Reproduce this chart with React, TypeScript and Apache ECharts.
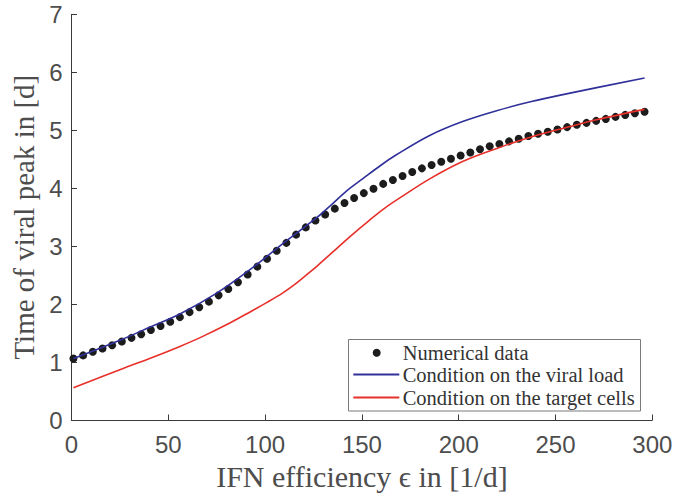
import React, { useEffect, useRef } from "react";
import * as echarts from "echarts";

const xTicks = [0, 50, 100, 150, 200, 250, 300];
const yTicks = [0, 1, 2, 3, 4, 5, 6, 7];

const dotX = [
  1, 6, 11, 16, 21, 26, 31, 36, 41, 46, 51, 56, 61, 66, 71, 76, 81, 86, 91, 96,
  101, 106, 111, 116, 121, 126, 131, 136, 141, 146, 151, 156, 161, 166, 171, 176, 181, 186, 191, 196,
  201, 206, 211, 216, 221, 226, 231, 236, 241, 246, 251, 256, 261, 266, 271, 276, 281, 286, 291, 296,
];
const dotY = [
  1.06, 1.115, 1.178, 1.234, 1.291, 1.354, 1.417, 1.479, 1.553, 1.622,
  1.695, 1.775, 1.861, 1.946, 2.042, 2.151, 2.259, 2.378, 2.51, 2.646,
  2.783, 2.92, 3.056, 3.198, 3.323, 3.442, 3.545, 3.647, 3.744, 3.83,
  3.915, 3.989, 4.074, 4.142, 4.211, 4.279, 4.342, 4.399, 4.456, 4.507,
  4.564, 4.615, 4.672, 4.723, 4.763, 4.808, 4.854, 4.9, 4.939, 4.974,
  5.013, 5.053, 5.093, 5.127, 5.161, 5.195, 5.23, 5.264, 5.292, 5.32,
];

const viralX = [1, 26, 41, 56, 75, 92, 109, 127, 133.5, 142, 150.7, 160, 168, 185, 202, 219.6, 237, 257.5, 296];
const viralY = [1.06, 1.39, 1.61, 1.83, 2.19, 2.59, 3.04, 3.5, 3.69, 3.95, 4.17, 4.4, 4.58, 4.91, 5.15, 5.337, 5.49, 5.64, 5.9];

const targetX = [1, 26, 41, 56, 67, 81, 92, 101, 109, 115, 122, 127, 135, 144, 154, 162, 170, 185, 202, 220, 237, 257, 271, 296];
const targetY = [0.557, 0.88, 1.07, 1.27, 1.43, 1.66, 1.86, 2.03, 2.19, 2.33, 2.52, 2.66, 2.9, 3.17, 3.45, 3.66, 3.84, 4.16, 4.46, 4.69, 4.88, 5.06, 5.18, 5.36];

const legendNames = ["Numerical data", "Condition on the viral load", "Condition on the target cells"];
const xTitle = "IFN efficiency \u03f5 in [1/d]";
const yTitle = "Time of viral peak in [d]";

const BLUE = "#30309a";
const RED = "#e8302a";
const DOT = "#1c1c1c";
const AXIS = "#3a3a3a";
const TEXT = "#4d4d4d";
const SERIF = "'Liberation Serif', 'DejaVu Serif', serif";
const SANS = "'Liberation Sans', Arial, sans-serif";

export default function App() {
  const ref = useRef<HTMLDivElement>(null);
  useEffect(() => {
    const chart = echarts.init(ref.current!, null, { renderer: "svg" });
    const axisCommon = {
      type: "value" as const,
      axisLine: { show: true, lineStyle: { color: AXIS, width: 1 } },
      axisTick: { show: true, inside: true, length: 5.5, lineStyle: { color: AXIS, width: 1 } },
      splitLine: { show: false },
      nameLocation: "middle" as const,
    };
    const lx = 348.5, ly = 339.5;
    chart.setOption({
      animation: false,
      backgroundColor: "#ffffff",
      grid: { left: 71.5, right: 38.7, top: 14.3, bottom: 71.7, containLabel: false },
      xAxis: {
        ...axisCommon,
        min: xTicks[0],
        max: xTicks[xTicks.length - 1],
        interval: 50,
        name: xTitle,
        nameGap: 41,
        nameTextStyle: { fontFamily: SERIF, fontSize: 30, color: TEXT },
        axisLabel: { color: TEXT, fontFamily: SANS, fontSize: 24, margin: 12 },
      },
      yAxis: {
        ...axisCommon,
        min: yTicks[0],
        max: yTicks[yTicks.length - 1],
        interval: 1,
        name: yTitle,
        nameRotate: 90,
        nameGap: 30,
        nameTextStyle: { fontFamily: SERIF, fontSize: 29, color: TEXT },
        axisLabel: { color: TEXT, fontFamily: SANS, fontSize: 24, margin: 9 },
      },
      series: [
        {
          name: legendNames[0],
          type: "scatter",
          data: dotX.map((x, i) => [x, dotY[i]]),
          symbol: "circle",
          symbolSize: 8,
          itemStyle: { color: DOT, opacity: 1 },
          z: 2,
        },
        {
          name: legendNames[1],
          type: "line",
          data: viralX.map((x, i) => [x, viralY[i]]),
          showSymbol: false,
          symbol: "none",
          smooth: 0.35,
          lineStyle: { color: BLUE, width: 1.6 },
          z: 3,
        },
        {
          name: legendNames[2],
          type: "line",
          data: targetX.map((x, i) => [x, targetY[i]]),
          showSymbol: false,
          symbol: "none",
          smooth: 0.35,
          lineStyle: { color: RED, width: 1.6 },
          z: 3,
        },
      ],
      graphic: [
        {
          type: "group",
          z: 100,
          children: [
            {
              type: "rect",
              shape: { x: lx, y: ly, width: 292, height: 71.5 },
              style: { fill: "#ffffff", stroke: "#7a7a7a", lineWidth: 1 },
            },
            { type: "circle", shape: { cx: 376.7, cy: 352.7, r: 4 }, style: { fill: DOT } },
            { type: "line", shape: { x1: 353.3, y1: 374.5, x2: 399.3, y2: 374.5 }, style: { stroke: BLUE, lineWidth: 2 } },
            { type: "line", shape: { x1: 353.3, y1: 397.5, x2: 399.3, y2: 397.5 }, style: { stroke: RED, lineWidth: 2 } },
            ...legendNames.map((n, i) => ({
              type: "text",
              x: 402.7,
              y: [352.7, 374.5, 397.5][i],
              style: { text: n, fill: "#333333", font: `20.5px ${SERIF}`, verticalAlign: "middle", align: "left" },
            })),
          ],
        },
      ],
    });
    return () => chart.dispose();
  }, []);
  return <div ref={ref} style={{ position: "absolute", left: 0, top: 0, width: 691, height: 496 }} />;
}
